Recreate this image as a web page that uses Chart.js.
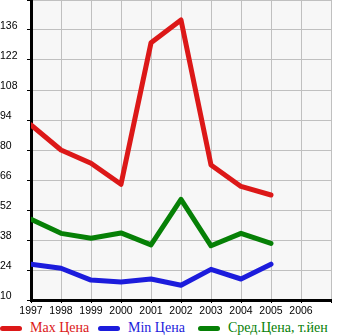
<!DOCTYPE html>
<html>
<head>
<meta charset="utf-8">
<script src="https://cdn.jsdelivr.net/npm/chart.js@4"></script>
<style>
  html, body { margin: 0; padding: 0; background: #fff; }
  #wrap { position: relative; width: 345px; height: 335px; overflow: hidden; }
  #priceChart { position: absolute; left: 0; top: 0; }
  #legend { position: absolute; left: 0; top: 320px; height: 15px; width: 345px;
            font: 14px "Liberation Serif", serif; white-space: nowrap; }
  #legend .item { position: absolute; top: 0; line-height: 15px; }
  #legend .mark { position: absolute; top: 6px; width: 22px; height: 5px; border-radius: 3px; }
  #legend .txt { position: absolute; left: 30px; top: 0; }
</style>
</head>
<body>
<div id="wrap">
  <canvas id="priceChart" width="345" height="320"></canvas>
  <div id="legend"></div>
</div>
<script>
// данные с графика
const years = [1997, 1998, 1999, 2000, 2001, 2002, 2003, 2004, 2005];
const maxPrice = [91.7, 80, 73.8, 64, 130, 140.7, 73, 63, 59];
const minPrice = [26.7, 24.8, 19.3, 18.4, 19.8, 16.9, 24.3, 19.8, 26.7];
const avgPrice = [47.7, 41.1, 38.8, 41.3, 35.7, 57, 35.3, 41.1, 36.4];
const seriesNames = ['Max Цена', 'Min Цена', 'Сред.Цена, т.йен'];
const seriesColors = ['#dc1818', '#1c1cdc', '#068006'];
const yTicks = [10, 24, 38, 52, 66, 80, 94, 108, 122, 136, 150];

const toPoints = arr => arr.map((v, i) => ({ x: years[i], y: v }));

// фон области графика
const plotBg = {
  id: 'plotBg',
  beforeDraw(chart) {
    const { ctx, chartArea: a } = chart;
    ctx.save();
    ctx.fillStyle = '#f7f7f7';
    ctx.fillRect(a.left, a.top, a.right - a.left, a.bottom - a.top);
    ctx.restore();
  }
};

const ctx = document.getElementById('priceChart').getContext('2d');
const chart = new Chart(ctx, {
  type: 'line',
  data: {
    datasets: [maxPrice, minPrice, avgPrice].map((arr, i) => ({
      label: seriesNames[i],
      data: toPoints(arr),
      borderColor: seriesColors[i],
      backgroundColor: seriesColors[i],
      borderWidth: 5,
      borderCapStyle: 'round',
      borderJoinStyle: 'round',
      pointRadius: 0,
      tension: 0
    }))
  },
  options: {
    responsive: false,
    animation: false,
    layout: { padding: { left: 0, right: 14, top: 0, bottom: 0 } },
    plugins: {
      tooltip: { enabled: false },
      legend: { display: false }
    },
    scales: {
      x: {
        type: 'linear',
        min: 1997,
        max: 2007,
        afterBuildTicks(scale) {
          scale.ticks = years.concat([2006, 2007]).map(v => ({ value: v }));
        },
        afterFit(scale) {
          scale.height = 20;
          scale.paddingLeft = 0;
          scale.paddingRight = 0;
        },
        ticks: {
          color: '#000',
          padding: 2,
          maxRotation: 0,
          autoSkip: false,
          font: { family: '"Liberation Sans", sans-serif', size: 10.5 },
          callback: v => (v >= 2007 ? '' : String(v))
        },
        grid: { color: '#c0c0c0', tickColor: '#000', tickLength: 3, lineWidth: 1 },
        border: { color: '#000', width: 3 }
      },
      y: {
        min: 10,
        max: 150,
        afterBuildTicks(scale) {
          scale.ticks = yTicks.map(v => ({ value: v }));
        },
        afterFit(scale) {
          scale.width = 31;
          scale.paddingTop = 0;
          scale.paddingBottom = 0;
        },
        ticks: {
          color: '#000',
          crossAlign: 'far',
          labelOffset: -4,
          font: { family: '"Liberation Sans", sans-serif', size: 10.5 },
          callback: v => (v >= 150 ? '' : String(v))
        },
        grid: { color: '#c0c0c0', tickColor: '#000', tickLength: 4, lineWidth: 1 },
        border: { color: '#000', width: 3 }
      }
    }
  },
  plugins: [plotBg]
});

// легенда снизу
const legendX = [0, 98, 198];
const legend = document.getElementById('legend');
seriesNames.forEach((name, i) => {
  const item = document.createElement('div');
  item.className = 'item';
  item.style.left = legendX[i] + 'px';
  item.innerHTML = '<span class="mark" style="background:' + seriesColors[i] + '"></span>' +
    '<span class="txt" style="color:' + seriesColors[i] + '">' + name + '</span>';
  legend.appendChild(item);
});
</script>
</body>
</html>
